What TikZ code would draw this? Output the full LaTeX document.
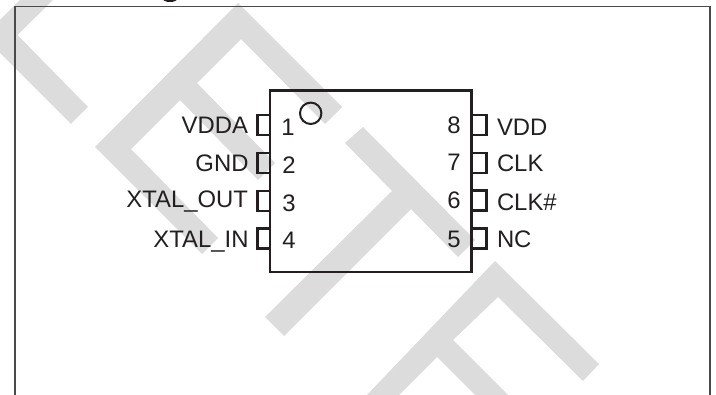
\documentclass[tikz,border=0pt]{standalone}
\usepackage{fontspec}
\setmainfont{Liberation Sans}
\definecolor{ink}{HTML}{231F20}
\definecolor{mark}{HTML}{DCDCDC}
\definecolor{framec}{HTML}{4A4A4A}
\tikzset{
  x=0.75pt,y=-0.75pt,
  stripe/.style={fill=mark,draw=none},
  chip/.style={draw=ink,line width=1.7pt,line join=miter},
  pinbox/.style={draw=ink,line width=1.7pt},
  lbl/.style={inner sep=0pt,outer sep=0pt,text=ink,font=\fontsize{17.9pt}{20pt}\selectfont},
  lefttext/.style={lbl,anchor=base east},
  righttext/.style={lbl,anchor=base west},
  numtext/.style={lbl,anchor=base}
}
\begin{document}
\begin{tikzpicture}
\useasboundingbox (0,0) rectangle (716,395);
\clip (0,0) rectangle (716,395);
% watermark
\fill[stripe] (-2,22) -- (22,-2) -- (55,-2) -- (17.5,35) -- (88,107) -- (71,124) -- (-2,51) -- cycle;
\fill[stripe] (238,3) -- (342,107) -- (325,124) -- (241,39) -- (197,83) -- (275,163) -- (258,180) -- (180,100) -- (131,149) -- (218,238) -- (202,254) -- (95,147) -- cycle;
\fill[stripe] (363,127) -- (475,240) -- (458,257) -- (411,209) -- (284,336) -- (265,317) -- (392,191) -- (345,143) -- cycle;
\fill[stripe] (495,261) -- (599,364) -- (583,381) -- (498,297) -- (453,340) -- (510,397) -- (477,397) -- (437,357) -- (397,397) -- (365,397) -- cycle;
% frame
\draw[framec,line width=1.2pt] (15,397) -- (15,6.5) -- (710,6.5) -- (710,397);
% fragment of the clipped heading above the frame
\fill[ink] (177,-1) arc[start angle=0,end angle=180,x radius=7,y radius=3] -- cycle;
% chip body
\draw[chip] (270,90.5) rectangle (471.5,272);
\draw[pinbox] (270,115) -- (257.5,115) -- (257.5,135) -- (270,135);
\draw[pinbox] (270,153) -- (257.5,153) -- (257.5,173) -- (270,173);
\draw[pinbox] (270,191) -- (257.5,191) -- (257.5,211) -- (270,211);
\draw[pinbox] (270,228.5) -- (257.5,228.5) -- (257.5,248.5) -- (270,248.5);
\draw[pinbox] (471.5,115) -- (486.5,115) -- (486.5,135) -- (471.5,135);
\draw[pinbox] (471.5,153) -- (486.5,153) -- (486.5,173) -- (471.5,173);
\draw[pinbox] (471.5,190.5) -- (486.5,190.5) -- (486.5,210.5) -- (471.5,210.5);
\draw[pinbox] (471.5,228.5) -- (486.5,228.5) -- (486.5,248.5) -- (471.5,248.5);
\draw[ink,line width=1.5pt] (310.7,113.3) circle[radius=10.7];
% labels
\node[lefttext] (l1) at (248,134) {VDDA};
\node[lefttext] (l2) at (248.5,171.5) {GND};
\node[lefttext] (l3) at (248,208) {XTAL\_OUT};
\node[lefttext] (l4) at (248.5,247) {XTAL\_IN};
\node[numtext] (n1) at (288,136) {1};
\node[numtext] (n2) at (289,173.5) {2};
\node[numtext] (n3) at (289,211) {3};
\node[numtext] (n4) at (289,248) {4};
\node[numtext] (n8) at (454,133.5) {8};
\node[numtext] (n7) at (454,171) {7};
\node[numtext] (n6) at (454,209) {6};
\node[numtext] (n5) at (454,247) {5};
\node[righttext] (r8) at (497,135.5) {VDD};
\node[righttext] (r7) at (497,172) {CLK};
\node[righttext] (r6) at (497,210) {CLK\#};
\node[righttext] (r5) at (497,247) {NC};
\end{tikzpicture}
\end{document}
